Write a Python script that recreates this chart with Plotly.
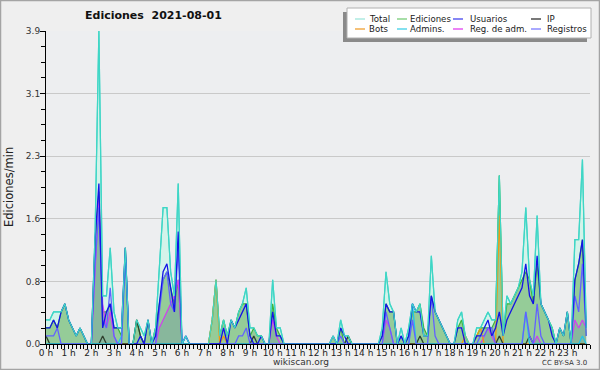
import plotly.graph_objects as go

# ---------------- data (edits per minute, 10-minute bins, 144 per day) ----------------
minutes = list(range(0, 1440, 10))

total = [
    0.3, 0.3, 0.4, 0.4, 0.4, 0.5,
    0.3, 0.2, 0.1, 0.2, 0.1, 0.0,
    0.0, 1.4, 3.9, 0.6, 0.6, 1.2,
    0.4, 0.2, 0.2, 1.2, 0.0, 0.0,
    0.3, 0.2, 0.1, 0.3, 0.0, 0.2,
    1.0, 1.7, 1.7, 0.9, 0.6, 2.0,
    0.0, 0.1, 0.0, 0.0, 0.0, 0.0,
    0.0, 0.0, 0.3, 0.8, 0.1, 0.3,
    0.1, 0.3, 0.2, 0.4, 0.5, 0.7,
    0.2, 0.2, 0.1, 0.1, 0.0, 0.0,
    0.8, 0.2, 0.2, 0.0, 0.0, 0.0,
    0.0, 0.0, 0.0, 0.0, 0.0, 0.0,
    0.0, 0.0, 0.0, 0.0, 0.1, 0.0,
    0.3, 0.1, 0.1, 0.0, 0.0, 0.0,
    0.0, 0.0, 0.0, 0.0, 0.0, 0.2,
    0.9, 0.5, 0.4, 0.0, 0.2, 0.0,
    0.2, 0.5, 0.4, 0.5, 0.1, 0.1,
    1.1, 0.4, 0.3, 0.2, 0.1, 0.0,
    0.0, 0.3, 0.4, 0.1, 0.0, 0.0,
    0.2, 0.2, 0.3, 0.4, 0.3, 0.3,
    2.1, 0.1, 0.6, 0.5, 0.6, 0.7,
    0.9, 1.7, 0.8, 0.6, 1.6, 0.5,
    0.4, 0.3, 0.2, 0.0, 0.2, 0.1,
    0.4, 0.0, 1.3, 1.3, 2.3, 0.2,
]

ediciones = [
    0.2, 0.2, 0.3, 0.2, 0.4, 0.5,
    0.3, 0.2, 0.1, 0.2, 0.1, 0.0,
    0.0, 1.3, 1.9, 0.4, 0.4, 0.5,
    0.2, 0.2, 0.1, 1.2, 0.0, 0.0,
    0.3, 0.1, 0.0, 0.3, 0.0, 0.2,
    0.5, 0.8, 0.9, 0.7, 0.5, 0.8,
    0.0, 0.0, 0.0, 0.0, 0.0, 0.0,
    0.0, 0.0, 0.3, 0.8, 0.1, 0.3,
    0.1, 0.3, 0.2, 0.4, 0.5, 0.5,
    0.1, 0.2, 0.1, 0.1, 0.0, 0.0,
    0.5, 0.2, 0.1, 0.0, 0.0, 0.0,
    0.0, 0.0, 0.0, 0.0, 0.0, 0.0,
    0.0, 0.0, 0.0, 0.0, 0.1, 0.0,
    0.2, 0.0, 0.1, 0.0, 0.0, 0.0,
    0.0, 0.0, 0.0, 0.0, 0.0, 0.1,
    0.5, 0.4, 0.4, 0.0, 0.1, 0.0,
    0.1, 0.4, 0.4, 0.5, 0.2, 0.1,
    0.6, 0.4, 0.3, 0.2, 0.1, 0.0,
    0.0, 0.2, 0.3, 0.1, 0.0, 0.0,
    0.1, 0.2, 0.2, 0.2, 0.2, 0.3,
    2.1, 0.1, 0.5, 0.5, 0.6, 0.7,
    0.8, 0.9, 0.8, 0.5, 1.0, 0.5,
    0.4, 0.3, 0.2, 0.0, 0.2, 0.1,
    0.4, 0.0, 0.8, 1.0, 1.3, 0.1,
]

usuarios = [
    0.2, 0.2, 0.3, 0.2, 0.4, 0.5,
    0.3, 0.2, 0.1, 0.2, 0.1, 0.0,
    0.0, 1.3, 2.0, 0.2, 0.4, 0.5,
    0.2, 0.2, 0.2, 1.2, 0.0, 0.0,
    0.0, 0.1, 0.0, 0.3, 0.0, 0.1,
    0.5, 0.9, 1.0, 0.7, 0.4, 1.4,
    0.0, 0.1, 0.0, 0.0, 0.0, 0.0,
    0.0, 0.0, 0.0, 0.0, 0.0, 0.2,
    0.0, 0.3, 0.2, 0.3, 0.4, 0.5,
    0.1, 0.0, 0.0, 0.1, 0.0, 0.0,
    0.4, 0.1, 0.1, 0.0, 0.0, 0.0,
    0.0, 0.0, 0.0, 0.0, 0.0, 0.0,
    0.0, 0.0, 0.0, 0.0, 0.0, 0.0,
    0.2, 0.1, 0.0, 0.0, 0.0, 0.0,
    0.0, 0.0, 0.0, 0.0, 0.0, 0.1,
    0.5, 0.4, 0.4, 0.0, 0.1, 0.0,
    0.1, 0.5, 0.4, 0.4, 0.1, 0.1,
    0.6, 0.4, 0.3, 0.2, 0.1, 0.0,
    0.0, 0.2, 0.2, 0.0, 0.0, 0.0,
    0.1, 0.1, 0.2, 0.3, 0.1, 0.2,
    0.4, 0.1, 0.3, 0.4, 0.5, 0.6,
    0.7, 1.0, 0.6, 0.5, 1.1, 0.5,
    0.4, 0.3, 0.1, 0.0, 0.2, 0.1,
    0.4, 0.0, 0.8, 1.0, 1.3, 0.2,
]

ip = [0.0] * 144
for i, v in {0: 0.1, 15: 0.1, 24: 0.3, 25: 0.1, 55: 0.1, 80: 0.1, 99: 0.1,
             120: 0.1, 128: 0.1}.items():
    ip[i] = v

bots = [0.0] * 144
for i, v in {44: 0.3, 45: 0.8, 47: 0.1, 111: 0.1, 114: 0.1, 115: 0.2,
             120: 1.6}.items():
    bots[i] = v

admins = [0.0] * 144
for i, v in {20: 0.1, 21: 1.1, 97: 0.5, 127: 0.4, 142: 0.1}.items():
    admins[i] = v

reg_adm = [0.0] * 144
for i, v in {13: 0.9, 14: 1.8, 15: 0.5, 16: 0.2, 17: 0.4, 18: 0.1,
             30: 0.2, 31: 0.3, 32: 0.4, 33: 0.5, 34: 0.6, 35: 0.8,
             60: 0.3, 61: 0.1, 90: 0.3, 91: 0.2,
             116: 0.1, 117: 0.2, 118: 0.1, 130: 0.1,
             140: 0.3, 141: 0.2, 142: 0.3, 143: 0.2}.items():
    reg_adm[i] = v

registros = [0.0] * 144
for i, v in {0: 0.1, 1: 0.1, 2: 0.1, 3: 0.2,
             13: 1.0, 14: 1.7, 15: 0.3, 16: 0.2, 17: 0.7, 18: 0.1, 21: 1.1,
             30: 0.4, 31: 0.8, 32: 0.9, 33: 0.5, 34: 0.4, 35: 1.2, 37: 0.1,
             51: 0.1, 52: 0.1, 53: 0.2, 76: 0.1, 78: 0.1,
             90: 0.4, 91: 0.2, 94: 0.1, 97: 0.3, 102: 0.6, 103: 0.1,
             115: 0.1, 116: 0.1, 117: 0.2, 118: 0.2,
             127: 0.4, 128: 0.1, 130: 0.5, 131: 0.1,
             140: 0.6, 141: 0.4, 142: 1.0, 143: 0.1}.items():
    registros[i] = v

hour_ticks = list(range(0, 1440, 60))
hour_labels = [f"{h} h" for h in range(24)]
y_ticks = [0, 0.78, 1.56, 2.34, 3.12, 3.9]
y_labels = ["0.0", "0.8", "1.6", "2.3", "3.1", "3.9"]

series_names = ["Total", "Ediciones", "Usuarios", "IP",
                "Bots", "Admins.", "Reg. de adm.", "Registros"]
series_colors = ["#3fd6c6", "#3cb43c", "#1414e6", "#2f3f2f",
                 "#f09a10", "#22c4ea", "#d23ef0", "#6262ff"]
legend_colors = ["#9fe6dc", "#78cc78", "#4444ee", "#303030",
                 "#f0a030", "#40cfe6", "#e040f0", "#7a7aff"]

# ---------------- figure ----------------
FW, FH = 600, 370
L, R, T, B = 46, 10, 31, 26
PW, PH = FW - L - R, FH - T - B


def px(xp):
    return (xp - L) / PW


def py(yp):
    return (FH - B - yp) / PH


fig = go.Figure()

# filled areas
fig.add_trace(go.Scatter(x=minutes, y=total, mode="lines", name=series_names[0],
                         line=dict(color=series_colors[0], width=1.2),
                         fill="tozeroy", fillcolor="rgba(205,244,232,0.8)"))
fig.add_trace(go.Scatter(x=minutes, y=ediciones, mode="lines", name=series_names[1],
                         line=dict(color=series_colors[1], width=1.2),
                         fill="tozeroy", fillcolor="rgba(140,198,140,0.88)"))
fig.add_trace(go.Scatter(x=minutes, y=reg_adm, mode="lines", name=series_names[6],
                         line=dict(color=series_colors[6], width=1.2),
                         fill="tozeroy", fillcolor="rgba(90,110,175,0.22)"))
# lines
for name, ys, col in [(series_names[4], bots, series_colors[4]),
                      (series_names[3], ip, series_colors[3]),
                      (series_names[5], admins, series_colors[5]),
                      (series_names[7], registros, series_colors[7]),
                      (series_names[2], usuarios, series_colors[2])]:
    fig.add_trace(go.Scatter(x=minutes, y=ys, mode="lines", name=name,
                             line=dict(color=col, width=1.3)))
# total line on top
fig.add_trace(go.Scatter(x=minutes, y=total, mode="lines", name=series_names[0],
                         line=dict(color=series_colors[0], width=1.2), showlegend=False))

shapes = []
annotations = []

# figure border
shapes.append(dict(type="rect", xref="paper", yref="paper",
                   x0=px(0.5), x1=px(FW - 0.5), y0=py(0.5), y1=py(FH - 0.5),
                   line=dict(color="#a4a4a4", width=1.5), fillcolor="rgba(0,0,0,0)",
                   layer="above"))

# legend box with shadow
bx0, bx1, by0, by1 = 347, 591, 8, 38
shapes.append(dict(type="rect", xref="paper", yref="paper",
                   x0=px(bx0 - 4), x1=px(bx1 - 4), y0=py(by0 + 4), y1=py(by1 + 4),
                   line=dict(width=0), fillcolor="#8a8a8a", layer="above"))
shapes.append(dict(type="rect", xref="paper", yref="paper",
                   x0=px(bx0), x1=px(bx1), y0=py(by0), y1=py(by1),
                   line=dict(color="#b0b0b0", width=1), fillcolor="#ffffff", layer="above"))

col_line_x = [355, 397, 453, 531]
col_text_x = [367, 408, 468, 545]
row_y = [19, 29]
for k, name in enumerate(series_names):
    r, c = divmod(k, 4)
    shapes.append(dict(type="line", xref="paper", yref="paper",
                       x0=px(col_line_x[c]), x1=px(col_line_x[c] + 10),
                       y0=py(row_y[r]), y1=py(row_y[r]),
                       line=dict(color=legend_colors[k], width=1.3), layer="above"))
    annotations.append(dict(xref="paper", yref="paper", x=px(col_text_x[c]), y=py(row_y[r]),
                            text=name, showarrow=False, xanchor="left", yanchor="middle",
                            font=dict(family="DejaVu Sans", size=8.6, color="#1a1a1a")))

# title and texts
annotations.append(dict(xref="paper", yref="paper", x=px(153), y=py(16),
                        text="<b>Ediciones\u00a0\u00a02021-08-01</b>", showarrow=False,
                        xanchor="center", yanchor="middle",
                        font=dict(family="DejaVu Sans", size=11, color="#111")))
annotations.append(dict(xref="paper", yref="paper", x=px(9), y=py(187),
                        text="Ediciones/min", showarrow=False, textangle=-90,
                        xanchor="center", yanchor="middle",
                        font=dict(family="DejaVu Sans", size=11.5, color="#222")))
annotations.append(dict(xref="paper", yref="paper", x=px(301), y=py(362),
                        text="wikiscan.org", showarrow=False,
                        xanchor="center", yanchor="middle",
                        font=dict(family="DejaVu Sans", size=9, color="#333")))
annotations.append(dict(xref="paper", yref="paper", x=px(589), y=py(363),
                        text="CC BY-SA 3.0", showarrow=False,
                        xanchor="right", yanchor="middle",
                        font=dict(family="DejaVu Sans", size=7, color="#333")))

fig.update_layout(
    width=FW, height=FH,
    margin=dict(l=L, r=R, t=T, b=B),
    paper_bgcolor="#efefef",
    plot_bgcolor="#edeef0",
    showlegend=False,
    shapes=shapes,
    annotations=annotations,
    font=dict(family="DejaVu Sans", size=9, color="#222"),
    xaxis=dict(range=[0, 1440], tickmode="array", tickvals=hour_ticks, ticktext=hour_labels,
               tickangle=0, automargin=False, ticklabelstandoff=-4,
               ticks="outside", ticklen=4, tickcolor="black", tickwidth=1,
               showline=True, linecolor="black", linewidth=1,
               showgrid=False, zeroline=False,
               tickfont=dict(family="DejaVu Sans", size=9, color="#222"),
               minor=dict(tickmode="linear", tick0=0, dtick=10, ticks="outside",
                          ticklen=4, tickcolor="black", showgrid=False)),
    yaxis=dict(range=[0, 3.9], tickmode="array", tickvals=y_ticks, ticktext=y_labels,
               automargin=False, ticklabelstandoff=-2,
               ticks="outside", ticklen=5, tickcolor="black", tickwidth=1,
               showline=True, linecolor="black", linewidth=1,
               showgrid=True, gridcolor="#c9c9c9", gridwidth=1, zeroline=False,
               tickfont=dict(family="DejaVu Sans", size=9, color="#333"),
               minor=dict(tickmode="linear", tick0=0, dtick=0.195, ticks="outside",
                          ticklen=4, tickcolor="black", showgrid=False)),
)

fig.write_html("out.html", config={"displayModeBar": False},
               post_script="document.body.style.margin='0';")
